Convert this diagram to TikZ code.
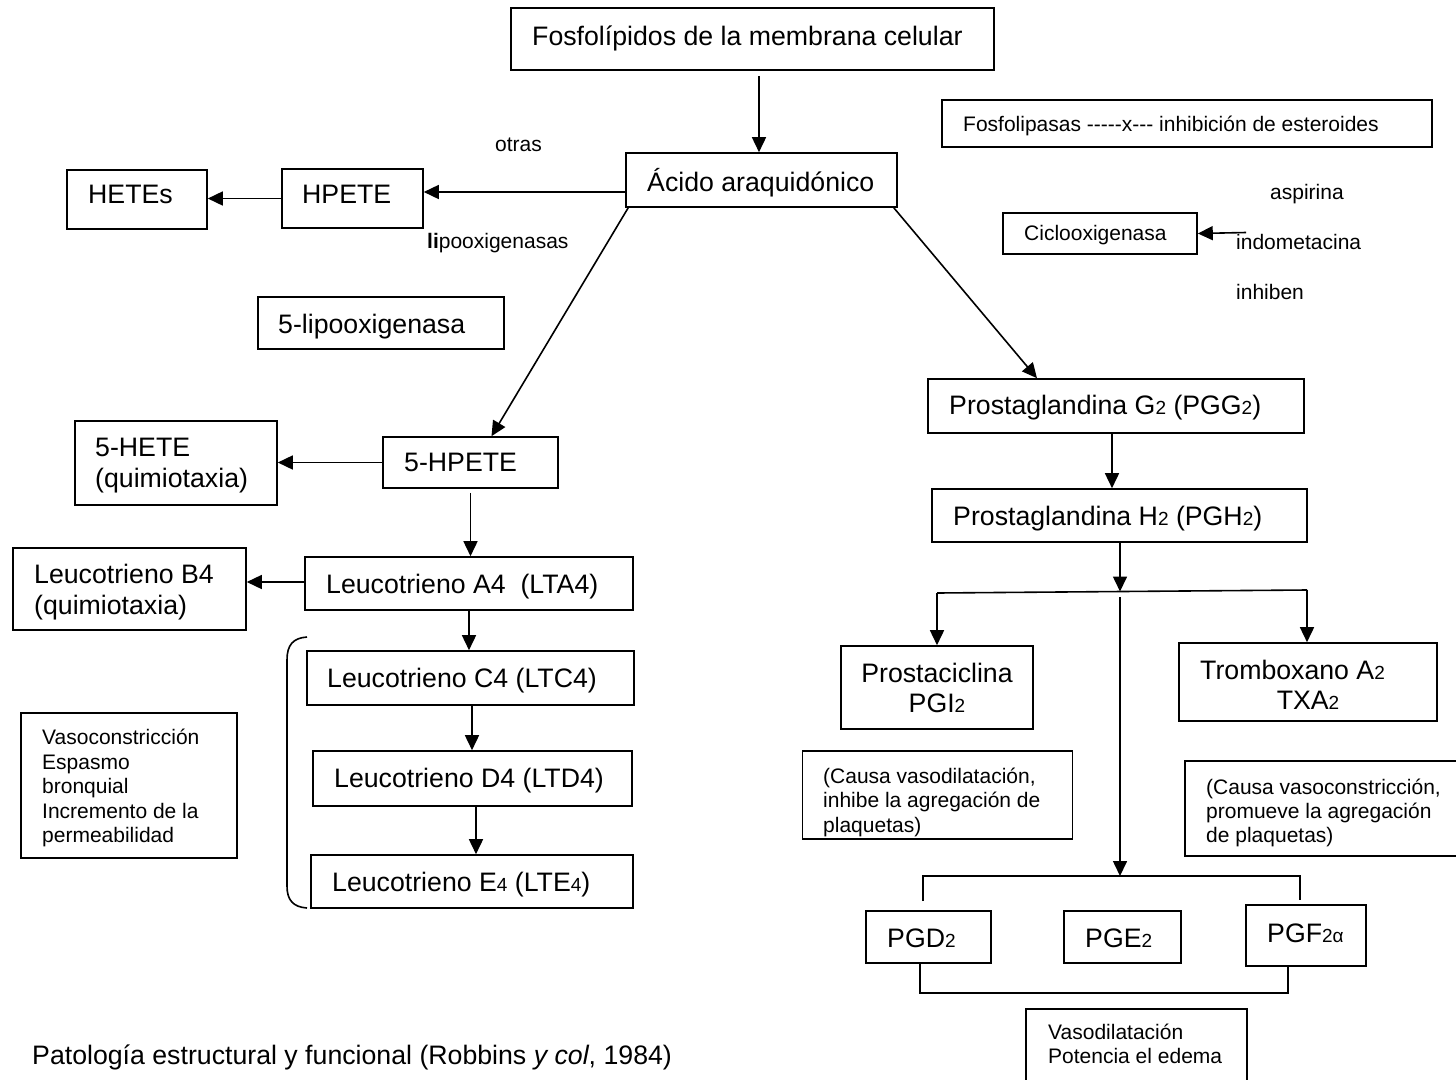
\documentclass[tikz,border=0pt]{standalone}
\usepackage{fontspec}
\setmainfont{Liberation Sans}
\usetikzlibrary{arrows.meta}
\newcommand\smallsub[1]{{\fontsize{19}{19}\selectfont #1}}
\begin{document}
\begin{tikzpicture}[x=1pt,y=-1pt,
  box/.style={draw, line width=1.6pt, inner sep=0pt, rectangle},
  arr/.style={line width=1.6pt, -{Triangle[length=15pt,width=14pt]}},
  ln/.style={line width=1.6pt},
  big/.style={anchor=base west, inner sep=0pt, font=\fontsize{26.7}{30.7}\selectfont},
  bigc/.style={anchor=base, inner sep=0pt, font=\fontsize{26.7}{30.7}\selectfont},
  sml/.style={anchor=base west, inner sep=0pt, font=\fontsize{21}{24.5}\selectfont}]
\fill[white] (0,0) rectangle (1456,1079);
\useasboundingbox (0,0) rectangle (1456,1079);
% boxes
\node[box,minimum width=483pt,minimum height=62pt] (fosfo) at (752.5,39) {};
\node[box,minimum width=271pt,minimum height=54pt] (acido) at (761.5,180) {};
\node[box,minimum width=490pt,minimum height=47pt] (plipasa) at (1187,123.5) {};
\node[box,minimum width=140pt,minimum height=59pt] (hetes) at (137,199.5) {};
\node[box,minimum width=141pt,minimum height=59pt] (hpete) at (352.5,198.5) {};
\node[box,minimum width=246pt,minimum height=52pt] (lipo) at (381,323) {};
\node[box,minimum width=194pt,minimum height=41pt] (cox) at (1100,233.5) {};
\node[box,minimum width=202pt,minimum height=84pt] (hete5) at (176,463) {};
\node[box,minimum width=175pt,minimum height=51pt] (hpete5) at (470.5,462.5) {};
\node[box,minimum width=233pt,minimum height=82pt] (lbf) at (129.5,589) {};
\node[box,minimum width=328pt,minimum height=53pt] (lta) at (469,583.5) {};
\node[box,minimum width=327pt,minimum height=54pt] (ltc) at (470.5,678) {};
\node[box,minimum width=319pt,minimum height=55pt] (ltd) at (472.5,778.5) {};
\node[box,minimum width=322pt,minimum height=53pt] (lte) at (472,881.5) {};
\node[box,minimum width=216pt,minimum height=145pt] (efl) at (129,785.5) {};
\node[box,minimum width=376pt,minimum height=54pt] (pgg) at (1116,406) {};
\node[box,minimum width=375pt,minimum height=53pt] (pgh) at (1119.5,515.5) {};
\node[box,minimum width=192pt,minimum height=83pt] (pgi) at (937,687.5) {};
\node[box,minimum width=258pt,minimum height=78pt] (txa) at (1308,682) {};
\node[box,minimum width=270pt,minimum height=88pt] (efi) at (937.5,795) {};
\node[box,minimum width=285pt,minimum height=95pt] (eft) at (1327.5,808.5) {};
\node[box,minimum width=125pt,minimum height=52pt] (pgd) at (928.5,937) {};
\node[box,minimum width=117pt,minimum height=52pt] (pge) at (1122.5,937) {};
\node[box,minimum width=120pt,minimum height=61pt] (pgf) at (1306,935.5) {};
\node[box,minimum width=221pt,minimum height=90pt] (efd) at (1136.5,1054) {};
% texts
\node[big] (t-fosfo) at (532,45) {Fosfolípidos de la membrana celular};
\node[big] (t-acido) at (647,191) {Ácido araquidónico};
\node[sml] (t-otras) at (495,151) {otras};
\node[sml] (t-plipasa) at (963,131.5) {Fosfolipasas -\kern0pt-\kern0pt-\kern0pt-\kern0pt-x-\kern0pt-\kern0pt- inhibición de esteroides};
\node[big] (t-hetes) at (88,203) {HETEs};
\node[big] (t-hpete) at (302,203) {HPETE};
\node[sml] (t-lox) at (427,248) {\textbf{li}pooxigenasas};
\node[big] (t-lipo) at (278,333) {5-lipooxigenasa};
\node[sml] (t-asp) at (1270,199) {aspirina};
\node[sml] (t-indo) at (1236,249) {indometacina};
\node[sml] (t-inh) at (1236,299) {inhiben};
\node[sml] (t-cox) at (1024,240.5) {Ciclooxigenasa};
\node[big] (t-hete5a) at (95,456.5) {5-HETE};
\node[big] (t-hete5b) at (95,487.5) {(quimiotaxia)};
\node[big] (t-hpete5) at (404,471.5) {5-HPETE};
\node[big] (t-lbfa) at (34,583.5) {Leucotrieno B4};
\node[big] (t-lbfb) at (34,614) {(quimiotaxia)};
\node[big] (t-lta) at (326,593.5) {Leucotrieno A4\ \ (LTA4)};
\node[big] (t-ltc) at (327,687.5) {Leucotrieno C4 (LTC4)};
\node[big] (t-ltd) at (334,787.5) {Leucotrieno D4 (LTD4)};
\node[big] (t-lte) at (332,891.5) {Leucotrieno E\smallsub{4} (LTE\smallsub{4})};
\node[sml] (t-efl1) at (42,744.5) {Vasoconstricción};
\node[sml] (t-efl2) at (42,769) {Espasmo};
\node[sml] (t-efl3) at (42,793.5) {bronquial};
\node[sml] (t-efl4) at (42,818) {Incremento de la};
\node[sml] (t-efl5) at (42,842.5) {permeabilidad};
\node[big] (t-pgg) at (949,414.5) {Prostaglandina G\smallsub{2} (PGG\smallsub{2})};
\node[big] (t-pgh) at (953,525.5) {Prostaglandina H\smallsub{2} (PGH\smallsub{2})};
\node[bigc] (t-pgi1) at (937,682.5) {Prostaciclina};
\node[bigc] (t-pgi2) at (937,712.5) {PGI\smallsub{2}};
\node[big] (t-txa1) at (1200,679.5) {Tromboxano A\smallsub{2}};
\node[bigc] (t-txa2) at (1308,709.5) {TXA\smallsub{2}};
\node[sml] (t-efi1) at (823,783) {(Causa vasodilatación,};
\node[sml] (t-efi2) at (823,807.5) {inhibe la agregación de};
\begin{scope}
\clip (efi.north west) rectangle (efi.south east);
\node[sml] (t-efi3) at (823,832) {plaquetas)};
\end{scope}
\node[sml] (t-eft1) at (1206,794.5) {(Causa vasoconstricción,};
\node[sml] (t-eft2) at (1206,818.5) {promueve la agregación};
\node[sml] (t-eft3) at (1206,842.5) {de plaquetas)};
\node[big] (t-pgd) at (887,947.5) {PGD\smallsub{2}};
\node[big] (t-pge) at (1085,947.5) {PGE\smallsub{2}};
\node[big] (t-pgf) at (1267,942.5) {PGF\smallsub{2α}};
\node[sml] (t-efd1) at (1048,1039.5) {Vasodilatación};
\node[sml] (t-efd2) at (1048,1063.5) {Potencia el edema};
\node[big] (t-foot) at (32,1064) {Patología estructural y funcional (Robbins \textit{y col}, 1984)};
% connectors
\draw[arr,shorten <=5pt] ([xshift=6.5pt]fosfo.south) -- ([xshift=-2.5pt]acido.north);
\draw[arr] ([yshift=-12pt]acido.west) coordinate (a1) -- (hpete.east |- a1);
\draw[arr] (hpete.west) -- (hetes.east |- hpete.west);
\draw[arr] ([xshift=3pt]acido.south west) -- ([xshift=21pt]hpete5.north);
\draw[arr] ([xshift=-4pt]acido.south east) -- ([xshift=-79pt]pgg.north);
\coordinate (inh) at (1246,232.5);
\draw[arr] (inh) -- (cox.east);
\draw[arr] (hpete5.west) -- (hete5.east |- hpete5.west);
\draw[arr,shorten <=4pt] (hpete5.south) -- (hpete5.south |- lta.north);
\draw[arr] ([yshift=1.5pt]lta.west) coordinate (a2) -- (lbf.east |- a2);
\draw[arr] (lta.south) -- (lta.south |- ltc.north);
\draw[arr] ([xshift=1.5pt]ltc.south) coordinate (a3) -- (a3 |- ltd.north);
\draw[arr] ([xshift=3.5pt]ltd.south) coordinate (a4) -- (a4 |- lte.north);
\draw[arr] ([xshift=-4pt]pgg.south) coordinate (a5) -- (a5 |- pgh.north);
\coordinate (jn) at (1120,591.5);
\coordinate (hl) at (937,593);
\coordinate (hr) at (1307,590);
\draw[arr] (pgh.south -| jn) -- (jn);
\draw[ln] (hl) -- (hr);
\draw[arr] (hl) -- (hl |- pgi.north);
\draw[arr] (hr) -- (hr |- txa.north);
\coordinate (bj) at (1120,876);
\draw[arr] (1120,597) coordinate (a6) -- (bj);
\draw[ln] ([xshift=-5.5pt,yshift=9pt]pgd.north) |- (bj) -| ([xshift=-6pt,yshift=4pt]pgf.north);
\draw[ln] ([xshift=-8.5pt]pgd.south) |- ([xshift=-18pt,yshift=-26pt]pgf.south) -- ([xshift=-18pt]pgf.south);
% bracket
\draw[ln] (307,637) .. controls (293,638) and (287,645) .. (287,660) -- (287,886) .. controls (287,900) and (293,907) .. (307,908);
\end{tikzpicture}
\end{document}
